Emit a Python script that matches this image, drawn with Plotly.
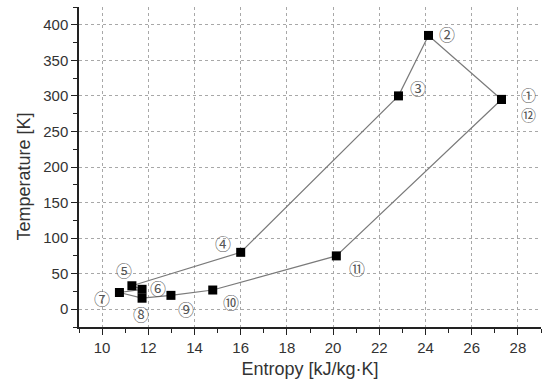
import plotly.graph_objects as go

# Cycle states (entropy kJ/kg·K, temperature K), in cycle order 1..12
entropy = [27.29, 24.13, 22.83, 16.0, 11.29, 11.73, 10.75, 11.73, 12.98, 14.79, 20.14, 27.29]
temperature = [295, 385, 300, 80, 33, 28, 23.5, 15.5, 19.5, 27, 75, 295]

# State labels (①/⑫ share one spot, stacked)
labels = ["①<br>⑫", "②", "③", "④", "⑤", "⑥", "⑦", "⑧", "⑨", "⑩", "⑪"]
label_x = [28.47, 24.93, 23.68, 15.22, 10.95, 12.42, 10.0, 11.68, 13.63, 15.57, 21.05]
label_y = [288, 387, 311, 93, 55, 29.5, 15.5, -7, 0, 10, 58]

fig = go.Figure()
fig.add_trace(go.Scatter(
    x=entropy, y=temperature, mode="lines+markers",
    line=dict(color="#7a7a7a", width=1.2),
    marker=dict(symbol="square", size=9, color="black"),
    showlegend=False,
))

for t, lx, ly in zip(labels, label_x, label_y):
    fig.add_annotation(x=lx, y=ly, text=t, showarrow=False,
                       font=dict(family="Noto Sans CJK SC", size=16 if "<br>" not in t else 15,
                                 color="#555555"))

fig.add_annotation(xref="paper", yref="paper", x=-0.119, y=0.47, text="Temperature [K]",
                   textangle=-90, showarrow=False, xanchor="center", yanchor="middle",
                   font=dict(family="Liberation Sans", size=18, color="#333333"))

axis_common = dict(
    showline=True, linecolor="#222222", linewidth=1.5,
    ticks="outside", ticklen=6, tickwidth=1.2, tickcolor="#222222",
    showgrid=True, gridcolor="#a8a8a8", gridwidth=1, griddash="dot",
    zeroline=False, mirror=False,
    tickfont=dict(family="Liberation Sans", size=15, color="#333333"),
)

fig.update_xaxes(
    range=[9, 29], tick0=10, dtick=2,
    minor=dict(ticks="outside", ticklen=4, dtick=1, tick0=9, tickcolor="#222222", showgrid=False),
    title=dict(text="Entropy [kJ/kg·K]", font=dict(family="Liberation Sans", size=18, color="#333333"), standoff=8),
    **axis_common,
)
fig.update_yaxes(
    range=[-25, 425], tick0=0, dtick=50,
    minor=dict(ticks="outside", ticklen=4, dtick=25, tick0=0, tickcolor="#222222", showgrid=False),
    **axis_common,
)

fig.update_layout(
    width=545, height=383,
    margin=dict(l=79, r=4, t=7, b=56),
    plot_bgcolor="white", paper_bgcolor="white",
)

fig.write_html("out.html")
